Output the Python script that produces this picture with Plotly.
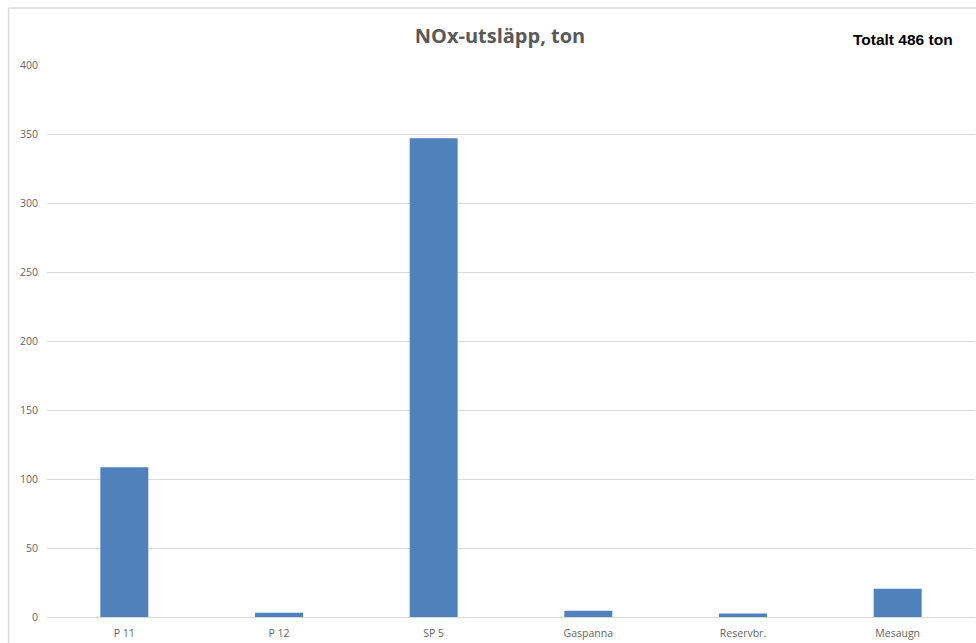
import plotly.graph_objects as go

categories = ["P 11", "P 12", "SP 5", "Gaspanna", "Reservbr.", "Mesaugn"]
values = [108.5, 3, 347, 4.5, 2.5, 20.5]
y_ticks = [0, 50, 100, 150, 200, 250, 300, 350, 400]
title_text = "NOx-utsläpp, ton"
total_text = "Totalt 486 ton"

W, H = 976, 643
L, R, T, B = 46.5, 0.5, 65, 26
pw = W - L - R
ph = H - T - B

def px_x(p):
    return (p - L) / pw

def px_y(p):
    return 1 - (p - T) / ph

fig = go.Figure(go.Bar(
    x=categories, y=values,
    marker=dict(color="#4F81BD", line=dict(width=0)),
    width=0.31,
))

fig.update_layout(
    width=W, height=H,
    margin=dict(l=L, r=R, t=T, b=B, pad=0),
    paper_bgcolor="white", plot_bgcolor="white",
    showlegend=False,
    font=dict(family="Open Sans, Calibri, sans-serif", color="#666666", size=11),
    title=dict(text=title_text, x=500 / W, xanchor="center", y=1 - 36 / H, yanchor="middle",
               font=dict(family="Open Sans, sans-serif", size=20, color="#595959", weight="bold")),
    xaxis=dict(showgrid=False, showline=True, linecolor="#D9D9D9", linewidth=1,
               ticks="", tickfont=dict(size=10.5, color="#666666"), ticklabelstandoff=6),
    yaxis=dict(range=[0, 400], tickvals=y_ticks, showgrid=True, gridcolor="#D9D9D9", gridwidth=1,
               zeroline=False, showline=False, ticks="", ticklabelstandoff=8,
               tickfont=dict(size=10.5, color="#666666")),
    annotations=[dict(text=total_text, x=px_x(903.5), y=px_y(39), xref="paper", yref="paper",
                      showarrow=False, xanchor="center", yanchor="middle",
                      font=dict(family="Liberation Sans, Arial, sans-serif", size=15.5, color="black", weight="bold"))],
    shapes=[
        dict(type="line", xref="paper", yref="paper", x0=px_x(8), x1=px_x(990), y0=px_y(8), y1=px_y(8),
             line=dict(color="#D9D9D9", width=1.5), layer="below"),
        dict(type="line", xref="paper", yref="paper", x0=px_x(8), x1=px_x(8), y0=px_y(8), y1=px_y(660),
             line=dict(color="#D9D9D9", width=1.5), layer="below"),
    ],
)

fig.write_html("out.html")
